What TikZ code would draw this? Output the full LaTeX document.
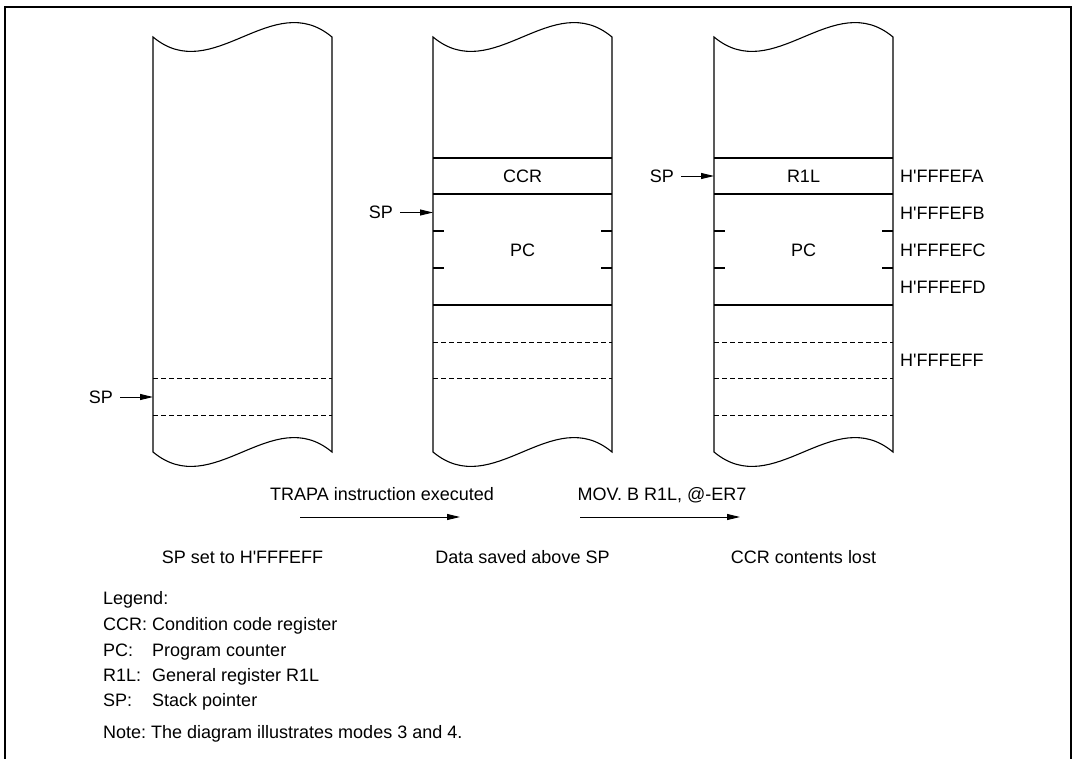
\documentclass[tikz,border=0pt]{standalone}
\usepackage{fontspec}
\setmainfont{Liberation Sans}
\usetikzlibrary{arrows.meta}
\newcommand{\apo}{\textquotesingle}
\begin{document}
\begin{tikzpicture}[x=1pt,y=-1pt,
  colline/.style={line width=1.1pt},
  sepline/.style={line width=1.1pt},
  dsep/.style={line width=0.9pt, dash pattern=on 5pt off 3pt},
  lbl/.style={font=\fontsize{18}{22}\selectfont, inner sep=0pt, anchor=base},
  lblw/.style={lbl, anchor=base west},
  ptr/.style={line width=1pt, -{Triangle[length=13pt,width=6pt]}},
  frameline/.style={line width=2.5pt}
]
\useasboundingbox (0,0) rectangle (1075,758);
% frame (open at the bottom)
\draw[frameline] (5,770) -- (5,7) -- (1071,7) -- (1071,770);

% columns
\foreach \L in {153,433,714}{
  \draw[colline] (\L,37) -- (\L,452)
    .. controls (\L+60,502) and (\L+119,402) .. (\L+179,452)
    -- (\L+179,37)
    .. controls (\L+119,-13) and (\L+60,87) .. (\L,37) -- cycle;
}
% column 1 rows
\draw[dsep] (153,378) -- (332,378);
\draw[dsep] (153,415) -- (332,415);
% columns 2 and 3 rows
\foreach \L in {433,714}{
  \draw[sepline] (\L,158) -- (\L+179,158);
  \draw[sepline] (\L,194) -- (\L+179,194);
  \draw[sepline] (\L,305) -- (\L+179,305);
  \draw[sepline] (\L,231) -- (\L+11,231);
  \draw[sepline] (\L+168,231) -- (\L+179,231);
  \draw[sepline] (\L,268) -- (\L+11,268);
  \draw[sepline] (\L+168,268) -- (\L+179,268);
  \draw[dsep] (\L,342) -- (\L+179,342);
  \draw[dsep] (\L,378) -- (\L+179,378);
}
\draw[dsep] (714,415) -- (893,415);

% cell texts
\node[lbl] (ccr) at (522.5,182.5) {CCR};
\node[lbl] (pc2) at (522.5,256) {PC};
\node[lbl] (r1l) at (803.5,182.5) {R1L};
\node[lbl] (pc3) at (803.5,256) {PC};

% addresses
\node[lblw] (aFA) at (900,182.5) {H\apo FFFEFA};
\node[lblw] (aFB) at (900,219) {H\apo FFFEFB};
\node[lblw] (aFC) at (900,256) {H\apo FFFEFC};
\node[lblw] (aFD) at (900,293) {H\apo FFFEFD};
\node[lblw] (aFF) at (900,366.5) {H\apo FFFEFF};

% stack pointers
\node[lbl, anchor=east] (sp1) at (113,397) {SP};
\coordinate (c1) at (153,397);
\draw[ptr] ([xshift=7pt]sp1.east) -- (c1);
\node[lbl, anchor=east] (sp2) at (393,212.5) {SP};
\coordinate (c2) at (433,212.5);
\draw[ptr] ([xshift=7pt]sp2.east) -- (c2);
\node[lbl, anchor=east] (sp3) at (674,176) {SP};
\coordinate (c3) at (714,176);
\draw[ptr] ([xshift=7pt]sp3.east) -- (c3);

% transitions
\node[lbl] (trapa) at (382,500) {TRAPA instruction executed};
\coordinate (a1s) at (300,517);
\coordinate (a1e) at (460,517);
\draw[ptr] (a1s) -- (a1e);
\node[lbl] (mov) at (662,500) {MOV. B R1L, @-ER7};
\coordinate (a2s) at (580,517);
\coordinate (a2e) at (740,517);
\draw[ptr] (a2s) -- (a2e);

% captions
\node[lbl] (cap1) at (242.5,563) {SP set to H\apo FFFEFF};
\node[lbl] (cap2) at (522.5,563) {Data saved above SP};
\node[lbl] (cap3) at (803.5,563) {CCR contents lost};

% legend
\node[lblw] (leg0) at (103,604) {Legend:};
\node[lblw] (leg1) at (103,630) {\makebox[49pt][l]{CCR:}Condition code register};
\node[lblw] (leg2) at (103,656) {\makebox[49pt][l]{PC:}Program counter};
\node[lblw] (leg3) at (103,681) {\makebox[49pt][l]{R1L:}General register R1L};
\node[lblw] (leg4) at (103,706) {\makebox[49pt][l]{SP:}Stack pointer};
\node[lblw] (note) at (103,738) {\makebox[48pt][l]{Note:}The diagram illustrates modes 3 and 4.};
\end{tikzpicture}
\end{document}
